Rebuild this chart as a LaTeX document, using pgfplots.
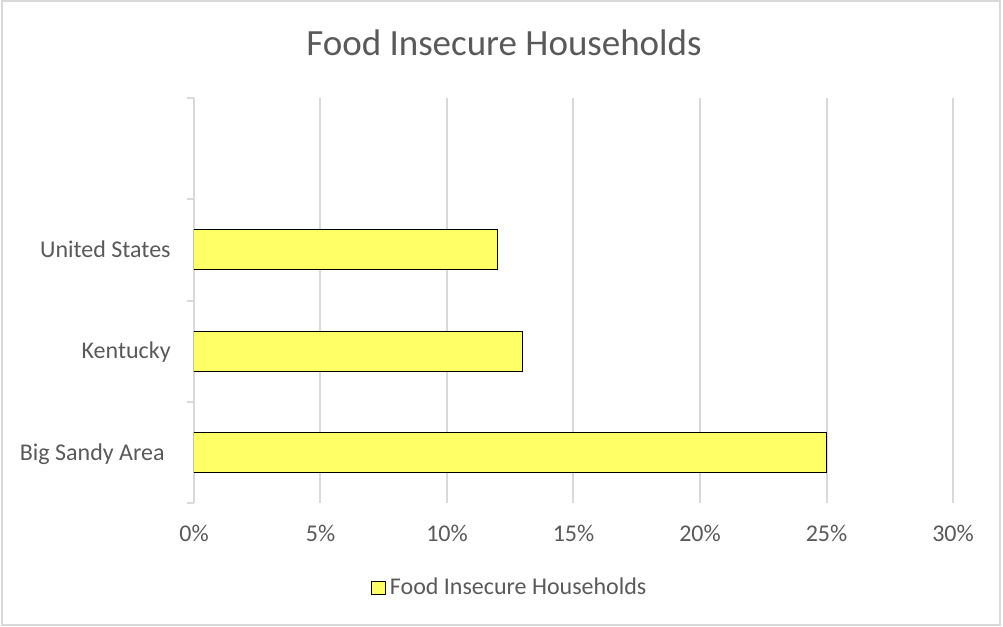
\documentclass[border=0pt]{standalone}
\usepackage{pgfplots}
\pgfplotsset{compat=1.18}
\usepackage{fontspec}
\setmainfont{Carlito}
\definecolor{txtgray}{HTML}{595959}
\definecolor{gridgray}{HTML}{D9D9D9}
\definecolor{baryellow}{HTML}{FFFF66}
\begin{document}
\begin{tikzpicture}
\path[use as bounding box] (0,0) rectangle (501.5pt,313.5pt);
\draw[gridgray, line width=0.75pt] (1pt,1pt) rectangle (500pt,313.1pt);
\node[anchor=base, text=txtgray, font=\fontsize{18.5}{22}\selectfont, inner sep=0pt] at (252pt,285.5pt) {Food Insecure Households};
\begin{axis}[
  at={(97pt,62pt)}, anchor=south west,
  width=379.5pt, height=202.5pt, scale only axis,
  xbar, bar width=20pt,
  xmin=0, xmax=30, ymin=0.5, ymax=4.5,
  xtick={0,5,10,15,20,25,30},
  xticklabel={\pgfmathprintnumber[assume math mode=true]{\tick}\%},
  ytick={1,2,3},
  yticklabels={Big Sandy Area\hspace*{3pt}, Kentucky, United States},
  axis y line*=left, axis x line*=bottom,
  x axis line style={draw=none},
  y axis line style={draw=gridgray, line width=1pt},
  xmajorgrids, grid style={draw=gridgray, line width=1pt},
  major tick length=0pt,
  ticklabel style={font=\fontsize{12}{14}\selectfont, text=txtgray, inner sep=0pt},
  xticklabel style={anchor=base, yshift=-19.5pt},
  yticklabel style={anchor=base east, xshift=-11.5pt, yshift=-3.9pt},
  extra y ticks={0.5,1.5,2.5,3.5,4.5},
  extra y tick labels={},
  extra y tick style={major tick length=3.5pt, tick align=outside, tick style={draw=gridgray, line width=1pt}, grid=none},
  legend style={draw=none, fill=none, at={(axis description cs:0.4175,-0.21)}, anchor=center, font=\fontsize{12}{14}\selectfont, text=txtgray, inner sep=0pt},
  legend image code/.code={\draw[#1, draw=black, line width=0.5pt] (-3pt,-3.4pt) rectangle (3.8pt,3.4pt);},
]
\addplot[fill=baryellow, draw=black, line width=0.5pt] coordinates {(25,1) (13,2) (12,3)};
\addlegendentry{Food Insecure Households}
\end{axis}
\end{tikzpicture}
\end{document}
